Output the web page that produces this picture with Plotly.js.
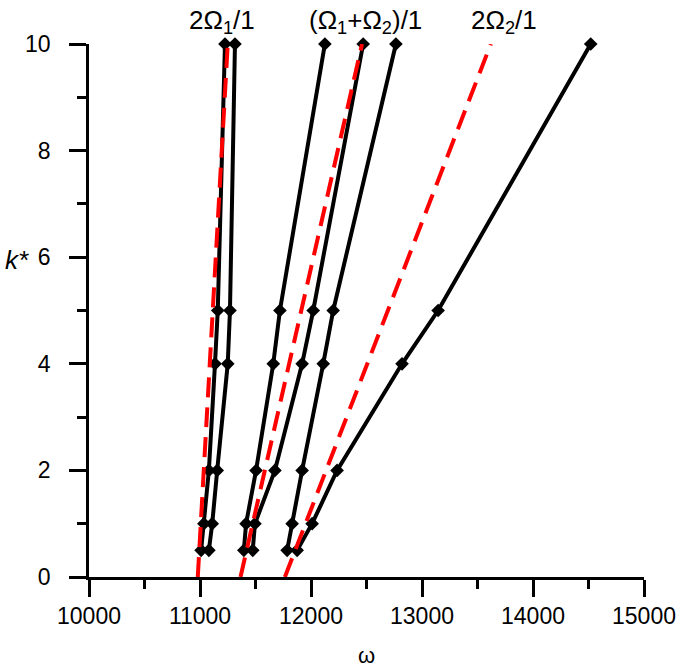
<!DOCTYPE html>
<html>
<head>
<meta charset="utf-8">
<script src="https://cdn.plot.ly/plotly-3.0.1.min.js"></script>
<style>html,body{margin:0;padding:0;background:#fff;}#chart{width:685px;height:672px;}</style>
</head>
<body>
<div id="chart"></div>
<script>
// k* values of the computed points
var kPoints = [0.5, 1, 2, 4, 5, 10];
// computed curves (omega values)
var seriesA = [11010, 11035, 11080, 11135, 11160, 11225];
var seriesB = [11080, 11110, 11155, 11250, 11270, 11315];
var seriesC = [11395, 11415, 11505, 11660, 11720, 12125];
var seriesD = [11475, 11495, 11675, 11920, 12020, 12470];
var seriesE = [11785, 11830, 11920, 12110, 12200, 12765];
var seriesF = [11875, 12010, 12235, 12820, 13145, 14520];
// theoretical resonance lines
var kLine = [0, 10];
var line2W1 = [10980, 11250];
var lineW1W2 = [11365, 12460];
var line2W2 = [11765, 13620];
// labels
var labelTexts = ['2\u03A9<sub>1</sub>/1', '(\u03A9<sub>1</sub>+\u03A9<sub>2</sub>)/1', '2\u03A9<sub>2</sub>/1'];
var labelX = [11200, 12495, 13740];
var xTickVals = [10000, 11000, 12000, 13000, 14000, 15000];
var yTickVals = [0, 2, 4, 6, 8, 10];

var FONT = 'Liberation Sans, Arial, sans-serif';
var traces = [];
[seriesA, seriesB, seriesC, seriesD, seriesE, seriesF].forEach(function (s) {
  traces.push({
    x: s, y: kPoints, type: 'scatter', mode: 'lines+markers',
    line: {color: '#000', width: 4},
    marker: {symbol: 'diamond', size: 10.5, color: '#000'},
    cliponaxis: false, showlegend: false, hoverinfo: 'skip'
  });
});
[line2W1, lineW1W2, line2W2].forEach(function (s) {
  traces.push({
    x: s, y: kLine, type: 'scatter', mode: 'lines',
    line: {color: '#ff0000', width: 4, dash: '20px,10px'},
    cliponaxis: false, showlegend: false, hoverinfo: 'skip'
  });
});

var annotations = labelTexts.map(function (t, i) {
  return {
    text: t, x: labelX[i], xref: 'x', y: 1, yref: 'paper',
    xanchor: 'center', yanchor: 'bottom', yshift: 4, showarrow: false,
    font: {family: FONT, size: 26, color: '#000'}
  };
});
annotations.push({
  text: '<i>k*</i>', x: 0, xref: 'paper', xanchor: 'center', xshift: -72,
  y: 0.595, yref: 'paper', yanchor: 'middle', showarrow: false,
  font: {family: FONT, size: 26, color: '#000'}
});
annotations.push({
  text: '\u03C9', x: 0.5, xref: 'paper', xanchor: 'center',
  y: 0, yref: 'paper', yanchor: 'bottom', yshift: -93, showarrow: false,
  font: {family: FONT, size: 22, color: '#000'}
});

var layout = {
  width: 685, height: 672,
  margin: {l: 89, r: 41, t: 44, b: 95},
  paper_bgcolor: '#fff', plot_bgcolor: '#fff',
  font: {family: FONT, size: 23, color: '#000'},
  xaxis: {
    range: [10000, 15000], tickvals: xTickVals, ticktext: xTickVals.map(String),
    showgrid: false, zeroline: false, showline: true, linecolor: '#000', linewidth: 2.5,
    ticks: 'outside', ticklen: 17, tickwidth: 2.5, tickcolor: '#000',
    tickfont: {family: FONT, size: 23, color: '#000'},
    minor: {dtick: 500, tick0: 10500, ticks: 'outside', ticklen: 9, tickwidth: 2.5, tickcolor: '#000', showgrid: false}
  },
  yaxis: {
    range: [0, 10], tickvals: yTickVals, ticktext: yTickVals.map(String),
    showgrid: false, zeroline: false, showline: true, linecolor: '#000', linewidth: 2.5,
    ticks: 'outside', ticklen: 17, tickwidth: 2.5, tickcolor: '#000',
    ticklabelstandoff: 14,
    tickfont: {family: FONT, size: 23, color: '#000'},
    minor: {dtick: 1, tick0: 1, ticks: 'outside', ticklen: 9, tickwidth: 2.5, tickcolor: '#000', showgrid: false}
  },
  annotations: annotations
};
Plotly.newPlot('chart', traces, layout, {displayModeBar: false});
</script>
</body>
</html>
